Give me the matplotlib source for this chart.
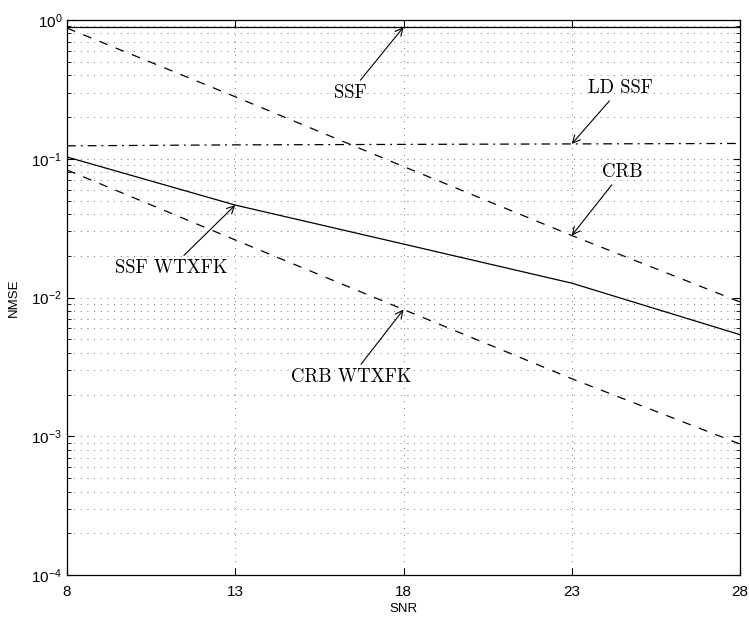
import numpy as np
import matplotlib.pyplot as plt
from matplotlib.ticker import LogLocator, NullFormatter

snr = [8, 13, 18, 23, 28]  # SNR points
ssf = [0.89, 0.89, 0.89, 0.89, 0.89]
ld_ssf = [0.124, 0.126, 0.127, 0.128, 0.129]
crb = [0.875, 0.28, 0.088, 0.028, 0.0093]
ssf_wtxfk = [0.103, 0.0464, 0.0243, 0.0127, 0.0054]
crb_wtxfk = [0.083, 0.026, 0.0082, 0.0026, 0.00088]

plt.rcParams['font.family'] = ['Liberation Sans', 'DejaVu Sans']
plt.rcParams['mathtext.default'] = 'regular'
fig = plt.figure(figsize=(7.49, 6.17), dpi=100)
ax = fig.add_axes([0.0895, 0.068, 0.8985, 0.8995])

ax.semilogy(snr, ssf, 'k-', lw=0.9)
ax.semilogy(snr, ld_ssf, 'k-.', lw=0.9, dashes=(7, 4, 1.5, 4))
ax.semilogy(snr, crb, 'k--', lw=0.9, dashes=(7, 7))
ax.semilogy(snr, ssf_wtxfk, 'k-', lw=0.9)
ax.semilogy(snr, crb_wtxfk, 'k--', lw=0.9, dashes=(7, 7))

ax.set_xlim(8, 28)
ax.set_ylim(1e-4, 1)
ax.set_xticks(snr)
ax.yaxis.set_major_locator(LogLocator(base=10, numticks=10))
ax.yaxis.set_minor_locator(LogLocator(base=10, subs=np.arange(2, 10), numticks=50))
ax.yaxis.set_minor_formatter(NullFormatter())
ax.tick_params(which='both', direction='in', top=True, right=True, labelsize=11)
ax.tick_params(which='major', length=5)
ax.tick_params(which='minor', length=3)
ax.tick_params(axis='x', pad=7)
grid_style = dict(ls=(0, (1, 7)), color='0.25', lw=0.6)
ax.grid(True, which='major', axis='x', **grid_style)
ax.grid(True, which='both', axis='y', **grid_style)
for s in ax.spines.values():
    s.set_linewidth(0.9)

ax.set_xlabel('SNR', fontsize=9.5, labelpad=3)
ax.set_ylabel('NMSE', fontsize=9.5, labelpad=8)

# annotations with arrows
ap = dict(arrowstyle='->', lw=0.8, color='k', shrinkA=1, shrinkB=0)
tf = dict(fontfamily='cmr10', fontsize=13.5, ha='center', va='center')
ax.annotate('SSF', xy=(18, ssf[2]), xytext=(16.41, 0.298), arrowprops=ap, **tf)
ax.annotate('LD SSF', xy=(23, ld_ssf[3]), xytext=(24.45, 0.323), arrowprops=ap, **tf)
ax.annotate('CRB', xy=(23, crb[3]), xytext=(24.49, 0.0803), arrowprops=ap, **tf)
ax.annotate('SSF WTXFK', xy=(13, ssf_wtxfk[1]), xytext=(11.09, 0.0163), arrowprops=ap, **tf)
ax.annotate('CRB WTXFK', xy=(18, crb_wtxfk[2]), xytext=(16.44, 0.00267), arrowprops=ap, **tf)

plt.savefig('out.png', dpi=100)
